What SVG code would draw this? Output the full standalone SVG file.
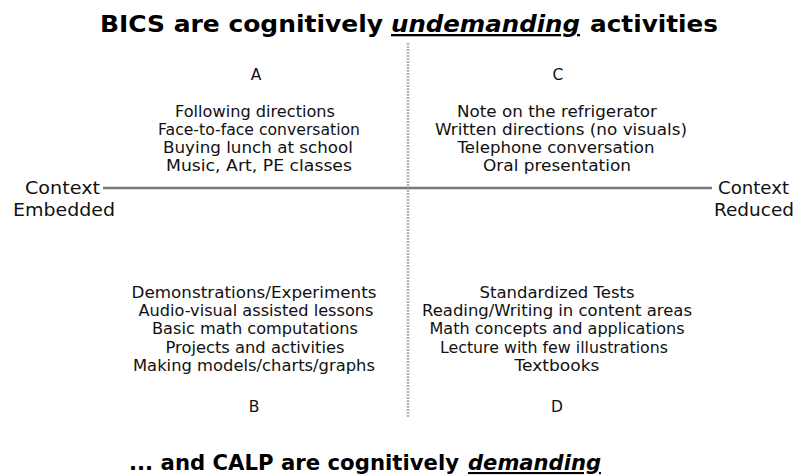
<svg xmlns="http://www.w3.org/2000/svg" width="797" height="476" viewBox="0 0 797 476">
<style>
.t{font-family:"DejaVu Sans",Verdana,sans-serif;font-weight:bold;font-size:23px;fill:#000}
.s{font-size:21px}
.u{font-style:italic;text-decoration:underline}
.b{font-family:"DejaVu Sans",Verdana,sans-serif;font-size:15.5px;fill:#111;text-anchor:middle}
.l{font-family:"DejaVu Sans",Verdana,sans-serif;font-size:17px;fill:#111}
</style>
<rect width="797" height="476" fill="#fff"/>
<g id="title">
<text class="t" x="100" y="32" textLength="283" lengthAdjust="spacingAndGlyphs">BICS are cognitively</text>
<text class="t u" x="391" y="32" textLength="189" lengthAdjust="spacingAndGlyphs">undemanding</text>
<text class="t" x="590" y="32" textLength="128" lengthAdjust="spacingAndGlyphs">activities</text>
</g>
<g id="connectors">
<line x1="408" y1="43" x2="408" y2="418" stroke="#b4b4b4" stroke-width="2.5" stroke-dasharray="2,1"/>
<line x1="103" y1="188" x2="712" y2="188" stroke="#7a7a7a" stroke-width="2.5"/>
</g>
<g id="left-label"><text class="l" x="25" y="194" textLength="75" lengthAdjust="spacingAndGlyphs">Context</text><text class="l" x="13" y="216" textLength="102" lengthAdjust="spacingAndGlyphs">Embedded</text></g>
<g id="right-label"><text class="l" x="718" y="194" textLength="71" lengthAdjust="spacingAndGlyphs">Context</text><text class="l" x="714" y="216" textLength="80" lengthAdjust="spacingAndGlyphs">Reduced</text></g>
<g id="quadA">
<text class="b" x="256" y="80">A</text>
<text class="b" x="255" y="117" textLength="160" lengthAdjust="spacingAndGlyphs">Following directions</text>
<text class="b" x="259" y="135" textLength="202" lengthAdjust="spacingAndGlyphs">Face-to-face conversation</text>
<text class="b" x="258" y="153" textLength="190" lengthAdjust="spacingAndGlyphs">Buying lunch  at school</text>
<text class="b" x="259" y="171" textLength="186" lengthAdjust="spacingAndGlyphs">Music, Art, PE classes</text>
</g>
<g id="quadC">
<text class="b" x="558" y="80">C</text>
<text class="b" x="557" y="117" textLength="200" lengthAdjust="spacingAndGlyphs">Note on  the refrigerator</text>
<text class="b" x="561" y="135" textLength="252" lengthAdjust="spacingAndGlyphs">Written directions (no visuals)</text>
<text class="b" x="556" y="153" textLength="197" lengthAdjust="spacingAndGlyphs">Telephone conversation</text>
<text class="b" x="557" y="171" textLength="148" lengthAdjust="spacingAndGlyphs">Oral presentation</text>
</g>
<g id="quadB">
<text class="b" x="254" y="298" textLength="245" lengthAdjust="spacingAndGlyphs">Demonstrations/Experiments</text>
<text class="b" x="256" y="316" textLength="235" lengthAdjust="spacingAndGlyphs">Audio-visual assisted lessons</text>
<text class="b" x="255" y="334" textLength="206" lengthAdjust="spacingAndGlyphs">Basic math  computations</text>
<text class="b" x="255" y="353" textLength="179" lengthAdjust="spacingAndGlyphs">Projects and activities</text>
<text class="b" x="254" y="371" textLength="242" lengthAdjust="spacingAndGlyphs">Making models/charts/graphs</text>
<text class="b" x="254" y="412">B</text>
</g>
<g id="quadD">
<text class="b" x="557" y="298" textLength="155" lengthAdjust="spacingAndGlyphs">Standardized Tests</text>
<text class="b" x="557" y="316" textLength="270" lengthAdjust="spacingAndGlyphs">Reading/Writing in content areas</text>
<text class="b" x="557" y="334" textLength="255" lengthAdjust="spacingAndGlyphs">Math concepts and applications</text>
<text class="b" x="554" y="353" textLength="228" lengthAdjust="spacingAndGlyphs">Lecture with few illustrations</text>
<text class="b" x="557" y="371" textLength="85" lengthAdjust="spacingAndGlyphs">Textbooks</text>
<text class="b" x="557" y="412">D</text>
</g>
<g id="bottom">
<text class="t s" x="129" y="470" textLength="330" lengthAdjust="spacingAndGlyphs">... and CALP are cognitively</text>
<text class="t s u" x="468" y="470" textLength="133" lengthAdjust="spacingAndGlyphs">demanding</text>
</g>
</svg>
